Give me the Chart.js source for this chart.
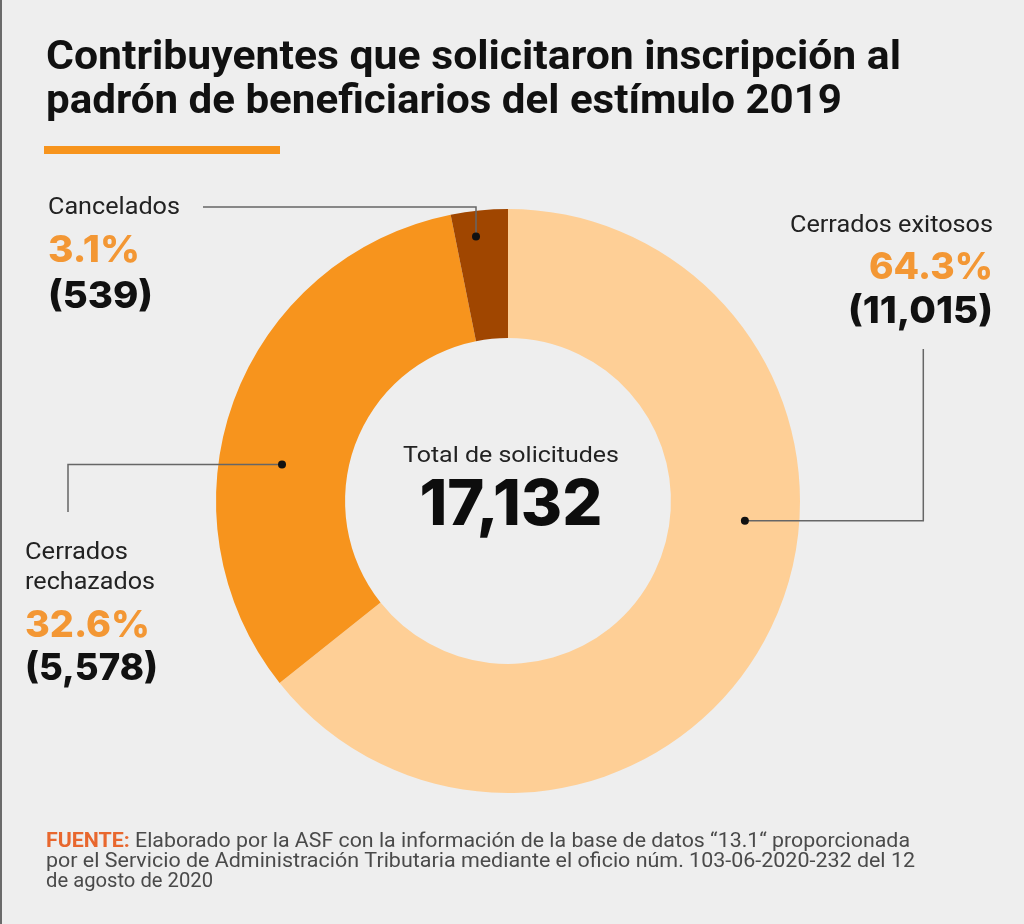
<!DOCTYPE html>
<html><head><meta charset="utf-8">
<script src="https://cdn.jsdelivr.net/npm/chart.js@4.4.0/dist/chart.umd.min.js"></script>
<style>html,body{margin:0;padding:0;background:#eeeeee;} canvas{display:block;}</style>
</head><body>
<canvas id="c" width="1024" height="924"></canvas>
<script>
// ---- data ----
const categories = ['Cerrados exitosos', 'Cerrados rechazados', 'Cancelados'];
const values = [11015, 5578, 539];
const colors = ['#FECF96', '#F7941D', '#A04600'];
const labelLines = [['Cerrados exitosos'], ['Cerrados', 'rechazados'], ['Cancelados']];
const titleLines = ['Contribuyentes que solicitaron inscripción al', 'padrón de beneficiarios del estímulo 2019'];
const centerLabel = 'Total de solicitudes';
const sourceLabel = 'FUENTE:';
const sourceLines = [' Elaborado por la ASF con la información de la base de datos “13.1“ proporcionada',
  'por el Servicio de Administración Tributaria mediante el oficio núm. 103-06-2020-232 del 12',
  'de agosto de 2020'];

// ---- layout / style ----
const ORANGE_TXT = '#F39734';
const FONT = 'Roboto, "Liberation Sans", sans-serif';
const NUMFONT = 'Inter, Roboto, sans-serif';
const layout = {
  title: [{x: 46, y: 69, w: 855}, {x: 46, y: 113, w: 796}],
  bar: {x: 44, y: 146, w: 236, h: 8},
  labels: [
    {align: 'right', x: 993, names: [{y: 231.7, w: 203}], pct: {y: 279, w: 124}, cnt: {y: 323, w: 145},
     dot: {a: 94.75, r: 0.814}, leader: {type: 'hv', x: 923.3, y: 349}},
    {align: 'left', x: 25, names: [{y: 559, w: 103}, {y: 589, w: 130}], pct: {y: 637, w: 125}, cnt: {y: 680, w: 133},
     dot: {a: -80.8, r: 0.784}, leader: {type: 'hv', x: 68, y: 512}},
    {align: 'left', x: 48, names: [{y: 214, w: 132}], pct: {y: 262, w: 92}, cnt: {y: 308, w: 105},
     dot: {a: -6.9, r: 0.912}, leader: {type: 'vh', x: 203, y: 207}}
  ],
  center: {label: {dy: -39.5, w: 216}, total: {dy: 23.5, w: 183}},
  source: [{x: 46, y: 846.7, w: 864}, {x: 46, y: 866.7, w: 869}, {x: 46, y: 886.7, w: 167}]
};

function fitText(ctx, text, x, y, w, font, color, align) {
  ctx.save();
  ctx.font = font; ctx.fillStyle = color; ctx.textBaseline = 'alphabetic'; ctx.textAlign = 'left';
  const m = ctx.measureText(text).width;
  const s = w / m;
  const x0 = align === 'right' ? x - w : align === 'center' ? x - w / 2 : x;
  ctx.translate(x0, y); ctx.scale(s, 1); ctx.fillText(text, 0, 0);
  ctx.restore();
}

const fmt = n => n.toLocaleString('en-US');

const annot = {
  id: 'annot',
  afterDraw(chart) {
    const ctx = chart.ctx;
    const meta = chart.getDatasetMeta(0);
    const arc0 = meta.data[0];
    const cx = arc0.x, cy = arc0.y, R = arc0.outerRadius;
    const total = values.reduce((a, b) => a + b, 0);

    // left frame line
    ctx.save(); ctx.fillStyle = '#6a6a6a'; ctx.fillRect(0, 0, 2, 924); ctx.restore();

    // title
    titleLines.forEach((t, i) => {
      const p = layout.title[i];
      fitText(ctx, t, p.x, p.y, p.w, `bold 40px ${FONT}`, '#111111', 'left');
    });
    ctx.save(); ctx.fillStyle = '#F7941D';
    ctx.fillRect(layout.bar.x, layout.bar.y, layout.bar.w, layout.bar.h); ctx.restore();

    // labels + leaders
    layout.labels.forEach((L, i) => {
      L.names.forEach((n, j) => fitText(ctx, labelLines[i][j], L.x, n.y, n.w, `24px ${FONT}`, '#222222', L.align));
      const pct = (values[i] / total * 100).toFixed(1) + '%';
      fitText(ctx, pct, L.x, L.pct.y, L.pct.w, `800 37px ${NUMFONT}`, ORANGE_TXT, L.align);
      fitText(ctx, '(' + fmt(values[i]) + ')', L.x, L.cnt.y, L.cnt.w, `800 37px ${NUMFONT}`, '#111111', L.align);

      const a = L.dot.a * Math.PI / 180, r = L.dot.r * R;
      const dx = cx + r * Math.sin(a), dy = cy - r * Math.cos(a);
      ctx.save();
      ctx.strokeStyle = '#666666'; ctx.lineWidth = 1.5;
      ctx.beginPath();
      if (L.leader.type === 'hv') {
        ctx.moveTo(dx, dy); ctx.lineTo(L.leader.x, dy); ctx.lineTo(L.leader.x, L.leader.y);
      } else {
        ctx.moveTo(dx, dy); ctx.lineTo(dx, L.leader.y); ctx.lineTo(L.leader.x, L.leader.y);
      }
      ctx.stroke();
      ctx.fillStyle = '#111111';
      ctx.beginPath(); ctx.arc(dx, dy, 4, 0, Math.PI * 2); ctx.fill();
      ctx.restore();
    });

    // center
    fitText(ctx, centerLabel, cx + 3, cy + layout.center.label.dy, layout.center.label.w, `22px ${FONT}`, '#222222', 'center');
    fitText(ctx, fmt(total), cx + 3, cy + layout.center.total.dy, layout.center.total.w, `800 63px ${NUMFONT}`, '#0d0d0d', 'center');

    // source
    const s0 = layout.source[0];
    ctx.save();
    ctx.font = `bold 21px ${FONT}`; const wA = ctx.measureText(sourceLabel).width;
    ctx.font = `21px ${FONT}`; const wB = ctx.measureText(sourceLines[0]).width;
    const sc = s0.w / (wA + wB);
    ctx.translate(s0.x, s0.y); ctx.scale(sc, 1);
    ctx.textBaseline = 'alphabetic';
    ctx.font = `bold 21px ${FONT}`; ctx.fillStyle = '#E8672E'; ctx.fillText(sourceLabel, 0, 0);
    ctx.font = `21px ${FONT}`; ctx.fillStyle = '#4a4a4a'; ctx.fillText(sourceLines[0], wA, 0);
    ctx.restore();
    for (let i = 1; i < sourceLines.length; i++) {
      const p = layout.source[i];
      fitText(ctx, sourceLines[i], p.x, p.y, p.w, `21px ${FONT}`, '#4a4a4a', 'left');
    }
  }
};

new Chart(document.getElementById('c'), {
  type: 'doughnut',
  data: {
    labels: categories,
    datasets: [{data: values, backgroundColor: colors, borderWidth: 0, hoverOffset: 0}]
  },
  options: {
    responsive: false,
    devicePixelRatio: 1,
    animation: false,
    events: [],
    cutout: '55.8%',
    rotation: 0,
    layout: {padding: {left: 216, right: 224, top: 209, bottom: 131}},
    plugins: {legend: {display: false}, tooltip: {enabled: false}}
  },
  plugins: [annot]
});
</script>
</body></html>
